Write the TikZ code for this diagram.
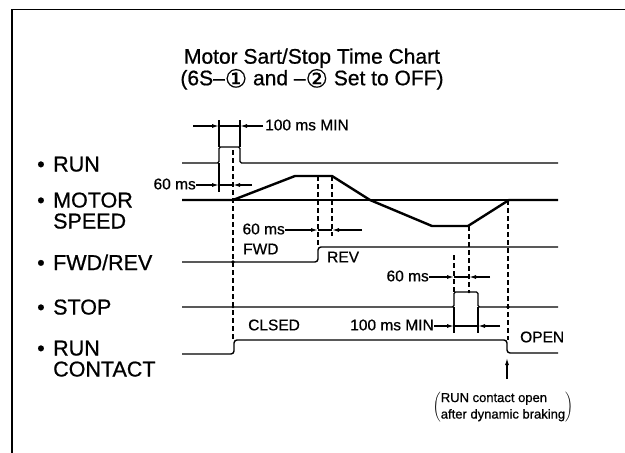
\documentclass[tikz,border=0pt]{standalone}
\usepackage{fontspec}
\setmainfont{Liberation Sans}[FakeBold=0.7]
\newfontfamily\circfont{DejaVu Sans}[FakeBold=0.5]
\usetikzlibrary{arrows.meta}
\newcommand{\circd}[1]{\raisebox{-2.2pt}{\circfont\fontsize{25}{20}\selectfont #1}}
\begin{document}
\begin{tikzpicture}[x=1pt,y=-1pt,
  sig/.style={line width=1.4pt, line join=round, rounded corners=1.5pt},
  spd/.style={line width=2.4pt, line join=round},
  dsh/.style={line width=1.2pt, dash pattern=on 5pt off 3pt},
  tk/.style={line width=1.2pt},
  dim/.style={line width=1.2pt, -{Latex[length=7pt,width=4pt]}},
  lab/.style={font=\fontsize{21.5}{21.5}\selectfont, anchor=base west, inner sep=0pt},
  small/.style={font=\fontsize{15.5}{15.5}\selectfont, inner sep=0pt},
  dot/.style={circle, fill, inner sep=0pt, minimum size=3.8pt}
]
\useasboundingbox (0,0) rectangle (625,453);
\fill[white] (0,0) rectangle (625,453);
% frame (top and left edges)
\coordinate (fbl) at (12,453);
\coordinate (ftl) at (12,9.5);
\coordinate (ftr) at (625,9.5);
\draw[line width=1.6pt] (fbl) -- (ftl) -- (ftr);

% title
\node[font=\fontsize{21}{20.5}\selectfont, align=center, inner sep=0pt] (title) at (312,69)
  {Motor Sart/Stop Time Chart\\(6S--\circd{①} and --\circd{②} Set to OFF)};

% signal labels
\node[lab] (b1) at (37,171.5) {•};
\node[lab] (l1) at (53,171.5) {RUN};
\node[lab] (b2) at (37,207.5) {•};
\node[lab] (l2) at (53,207.5) {MOTOR};
\node[lab] (l2b) at (53,228.5) {SPEED};
\node[lab] (b3) at (37,270) {•};
\node[lab] (l3) at (53,270) {FWD/REV};
\node[lab] (b4) at (37,314.5) {•};
\node[lab] (l4) at (53,314.5) {STOP};
\node[lab] (b5) at (37,355.5) {•};
\node[lab] (l5) at (53,355.5) {RUN};
\node[lab] (l5b) at (53,376.5) {CONTACT};

% ---- RUN ----
\coordinate (r0) at (182,163); \coordinate (r1) at (219,163); \coordinate (r2) at (219,147);
\coordinate (r3) at (240,147); \coordinate (r4) at (240,163); \coordinate (r5) at (558,163);
\draw[sig] (r0) -- (r1) -- (r2) -- (r3) -- (r4) -- (r5);

% ---- MOTOR SPEED ----
\coordinate (s0) at (182,200); \coordinate (s1) at (233,200); \coordinate (s2) at (295,176);
\coordinate (s3) at (332,176); \coordinate (s4) at (370,200); \coordinate (s5) at (432,226);
\coordinate (s6) at (468,226); \coordinate (s7) at (509,200); \coordinate (s8) at (558,200);
\draw[line width=1.3pt] (s0) -- (s8);
\draw[spd] (s0) -- (s1) -- (s2) -- (s3) -- (s4) -- (s5) -- (s6) -- (s7) -- (s8);

% ---- FWD/REV ----
\coordinate (f0) at (182,262); \coordinate (f1) at (318,262); \coordinate (f2) at (318,247);
\coordinate (f3) at (558,247);
\draw[sig, rounded corners=3pt] (f0) -- (f1) -- (f2) -- (f3);

% ---- STOP ----
\coordinate (p0) at (182,307); \coordinate (p1) at (454,307); \coordinate (p2) at (454,292);
\coordinate (p3) at (478,292); \coordinate (p4) at (478,307); \coordinate (p5) at (558,307);
\draw[sig] (p0) -- (p1) -- (p2) -- (p3) -- (p4) -- (p5);

% ---- RUN CONTACT ----
\coordinate (c0) at (182,354); \coordinate (c1) at (234,354); \coordinate (c2) at (234,340);
\coordinate (c3) at (507,340); \coordinate (c4) at (507,353); \coordinate (c5) at (558,353);
\draw[sig, rounded corners=3pt] (c0) -- (c1) -- (c2) -- (c3) -- (c4) -- (c5);

% ---- dashed guides ----
\coordinate (d1a) at (233,150); \coordinate (d1b) at (233,340);
\coordinate (d2a) at (318,176); \coordinate (d2b) at (318,247);
\coordinate (d3a) at (332,176); \coordinate (d3b) at (332,236);
\coordinate (d4a) at (454,255); \coordinate (d4b) at (454,292);
\coordinate (d5a) at (469,226); \coordinate (d5b) at (469,292);
\coordinate (d6a) at (508,200); \coordinate (d6b) at (508,340);
\draw[dsh] (d1a) -- (d1b);
\draw[dsh] (d2a) -- (d2b);
\draw[dsh] (d3a) -- (d3b);
\draw[dsh] (d4a) -- (d4b);
\draw[dsh] (d5a) -- (d5b);
\draw[dsh] (d6a) -- (d6b);
\node[dot] (x1) at (233,200) {};
\node[dot] (x2) at (233,262) {};
\node[dot, minimum size=2.8pt] (x3) at (233,307) {};
\node[dot] (x4) at (508,307) {};
\node[dot, minimum size=2.8pt] (x5) at (469,292) {};

% ---- dimension: 100 ms MIN (top) ----
\coordinate (t1a) at (219,120); \coordinate (t2a) at (240,120);
\draw[tk] (t1a) -- (r2);
\draw[tk] (t2a) -- (r3);
\coordinate (a1l) at (193,126); \coordinate (a1m) at (219,126);
\coordinate (a1n) at (240,126); \coordinate (a1r) at (263,126);
\draw[dim] (a1l) -- (a1m);
\draw[tk] (a1m) -- (a1n);
\draw[dim] (a1r) -- (a1n);
\node[small, anchor=west] (m1) at (265,125) {100 ms MIN};

% ---- dimension: 60 ms (run -> speed) ----
\coordinate (t3b) at (219,192);
\draw[tk] (r1) -- (t3b);
\coordinate (a2m) at (219,185); \coordinate (a2n) at (233,185); \coordinate (a2r) at (252,185);
\node[small, anchor=east] (m2) at (196,184) {60 ms};
\draw[dim] (m2.east) ++(0,1) -- (a2m);
\draw[tk] (a2m) -- (a2n);
\draw[dim] (a2r) -- (a2n);

% ---- dimension: 60 ms (speed -> rev) ----
\coordinate (a3m) at (318,230); \coordinate (a3n) at (332,230); \coordinate (a3r) at (362,230);
\node[small, anchor=east] (m3) at (285,229) {60 ms};
\draw[dim] (m3.east) ++(0,1) -- (a3m);
\draw[tk] (a3m) -- (a3n);
\draw[dim] (a3r) -- (a3n);

% ---- dimension: 60 ms (stop) ----
\coordinate (a4m) at (454,277); \coordinate (a4n) at (469,277); \coordinate (a4r) at (490,277);
\node[small, anchor=east] (m4) at (429,276) {60 ms};
\draw[dim] (m4.east) ++(0,1) -- (a4m);
\draw[tk] (a4m) -- (a4n);
\draw[dim] (a4r) -- (a4n);

% ---- dimension: 100 ms MIN (stop) ----
\coordinate (t5a) at (454,333); \coordinate (t6a) at (478,333);
\draw[tk] (p1) -- (t5a);
\draw[tk] (p4) -- (t6a);
\coordinate (a5m) at (454,326); \coordinate (a5n) at (478,326); \coordinate (a5r) at (500,326);
\node[small, anchor=east] (m5) at (434,325) {100 ms MIN};
\draw[dim] (m5.east) ++(0,1) -- (a5m);
\draw[tk] (a5m) -- (a5n);
\draw[dim] (a5r) -- (a5n);

% ---- state labels ----
\node[small, anchor=west] (fwd) at (243,249) {FWD};
\node[small, anchor=west] (rev) at (327,257) {REV};
\node[small, anchor=west] (cls) at (248,325) {CLSED};
\node[small, anchor=west] (opn) at (520,337) {OPEN};

% ---- note ----
\node[font=\fontsize{13}{16.5}\selectfont, inner sep=0pt] (note) at (503,407)
  {$\left(\mbox{\begin{tabular}{@{}l@{}}RUN contact open\\after dynamic braking\end{tabular}}\right)$};
\coordinate (up0) at (507,379);
\coordinate (up1) at (507,358);
\draw[dim] (up0) -- (up1);
\end{tikzpicture}
\end{document}
